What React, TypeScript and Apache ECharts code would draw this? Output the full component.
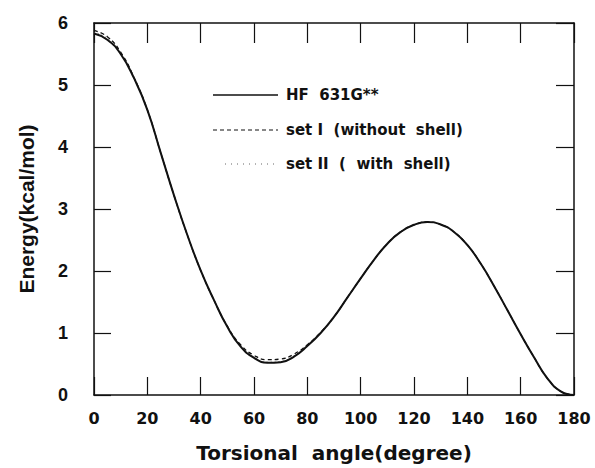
import React, { useEffect, useRef } from "react";
import * as echarts from "echarts";

const angles = [0, 5, 10, 15, 20, 25, 30, 35, 40, 45, 50, 55, 60, 65, 70, 75, 80, 85, 90, 95, 100, 105, 110, 115, 120, 125, 130, 135, 140, 145, 150, 155, 160, 165, 170, 175, 180];
const hfValues = [5.83, 5.73, 5.5, 5.11, 4.6, 3.91, 3.22, 2.58, 2.01, 1.53, 1.1, 0.78, 0.6, 0.52, 0.53, 0.62, 0.79, 1.0, 1.26, 1.57, 1.88, 2.18, 2.44, 2.63, 2.745, 2.79, 2.75, 2.63, 2.42, 2.12, 1.76, 1.37, 0.98, 0.61, 0.27, 0.06, 0.0];
const setIValues = [5.88, 5.78, 5.53, 5.12, 4.6, 3.91, 3.22, 2.58, 2.01, 1.53, 1.11, 0.81, 0.64, 0.57, 0.58, 0.66, 0.81, 1.01, 1.26, 1.57, 1.88, 2.18, 2.44, 2.63, 2.745, 2.79, 2.75, 2.63, 2.42, 2.12, 1.76, 1.37, 0.98, 0.61, 0.27, 0.06, 0.0];
const setIIValues = [5.85, 5.75, 5.51, 5.11, 4.6, 3.91, 3.22, 2.58, 2.01, 1.53, 1.1, 0.79, 0.61, 0.53, 0.54, 0.63, 0.79, 1.0, 1.26, 1.57, 1.88, 2.18, 2.44, 2.63, 2.745, 2.79, 2.75, 2.63, 2.42, 2.12, 1.76, 1.37, 0.98, 0.61, 0.27, 0.06, 0.0];

const seriesNames = ["HF  631G**", "set I  (without  shell)", "set II  (  with  shell)"];
const xTitle = "Torsional  angle(degree)";
const yTitle = "Energy(kcal/mol)";

const FONT = "'Liberation Sans', Arial, Helvetica, sans-serif";
const WIDE = "'DejaVu Sans', 'Liberation Sans', sans-serif";

export default function App() {
  const ref = useRef<HTMLDivElement>(null);
  useEffect(() => {
    if (!ref.current) return;
    const chart = echarts.init(ref.current, null, { renderer: "svg" });
    const pair = (vals: number[]) => angles.map((a, i) => [a, vals[i]]);
    const axisLine = { onZero: false, lineStyle: { color: "#111", width: 1.5 } };
    const legendX1 = 213, legendX2 = 278, textX = 286;
    const rows = [95, 130, 164];
    chart.setOption({
      animation: false,
      backgroundColor: "#fff",
      grid: { left: 94, right: 21, top: 23, bottom: 72 },
      xAxis: [
        {
          type: "value", min: 0, max: 180, interval: 20, position: "bottom",
          name: xTitle, nameLocation: "middle", nameGap: 48,
          nameTextStyle: { fontFamily: WIDE, fontWeight: "bold", fontSize: 20, color: "#111" },
          axisLine, splitLine: { show: false },
          axisTick: { inside: true, length: 18, lineStyle: { color: "#111", width: 1.2 } },
          axisLabel: { margin: 15, fontFamily: WIDE, fontWeight: "bold", fontSize: 16, color: "#111" },
        },
        {
          type: "value", min: 0, max: 180, interval: 20, position: "top",
          axisLine, splitLine: { show: false },
          axisTick: { inside: true, length: 20, lineStyle: { color: "#111", width: 1.2 } },
          axisLabel: { show: false },
        },
      ],
      yAxis: [
        {
          type: "value", min: 0, max: 6, interval: 1, position: "left",
          name: yTitle, nameLocation: "middle", nameGap: 57,
          nameTextStyle: { fontFamily: FONT, fontWeight: "bold", fontSize: 21, color: "#111" },
          axisLine, splitLine: { show: false },
          axisTick: { inside: true, length: 17, lineStyle: { color: "#111", width: 1.2 } },
          axisLabel: { margin: 26, fontFamily: FONT, fontWeight: "bold", fontSize: 18, color: "#111" },
        },
        {
          type: "value", min: 0, max: 6, interval: 1, position: "right",
          axisLine, splitLine: { show: false },
          axisTick: { inside: true, length: 18, lineStyle: { color: "#111", width: 1.2 } },
          axisLabel: { show: false },
        },
      ],
      series: [
        {
          name: seriesNames[2], type: "line", smooth: 0.5, showSymbol: false,
          data: pair(setIIValues),
          lineStyle: { color: "#666", width: 1, type: [1, 3] },
        },
        {
          name: seriesNames[1], type: "line", smooth: 0.5, showSymbol: false,
          data: pair(setIValues),
          lineStyle: { color: "#111", width: 1.3, type: [4, 3] },
        },
        {
          name: seriesNames[0], type: "line", smooth: 0.5, showSymbol: false,
          data: pair(hfValues),
          lineStyle: { color: "#111", width: 2 },
        },
      ],
      graphic: [
        { type: "line", shape: { x1: legendX1, y1: rows[0], x2: legendX2, y2: rows[0] }, style: { stroke: "#111", lineWidth: 1.5 } },
        { type: "line", shape: { x1: legendX1, y1: rows[1], x2: legendX2, y2: rows[1] }, style: { stroke: "#111", lineWidth: 1.2, lineDash: [4, 3] } },
        { type: "line", shape: { x1: 225, y1: rows[2], x2: legendX2, y2: rows[2] }, style: { stroke: "#666", lineWidth: 1, lineDash: [1, 5] } },
        ...seriesNames.map((n, i) => ({
          type: "text", x: textX, y: rows[i],
          style: { text: n, fontFamily: WIDE, fontWeight: "bold", fontSize: 15, fill: "#111", textVerticalAlign: "middle", verticalAlign: "middle" },
        })),
      ],
    });
    return () => chart.dispose();
  }, []);
  return <div ref={ref} style={{ width: 595, height: 468, position: "absolute", left: 0, top: 0 }} />;
}
